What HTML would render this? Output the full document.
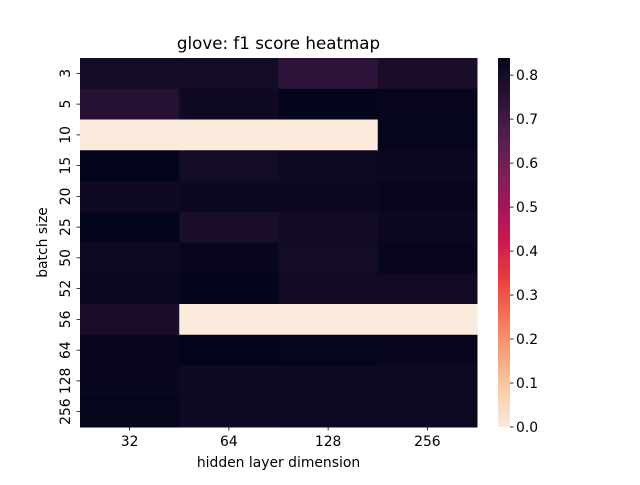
<!DOCTYPE html>
<html><head><meta charset="utf-8"><style>
body{margin:0;background:#fff;font-family:"Liberation Sans","DejaVu Sans",sans-serif}
</style></head><body>
<svg id="chart" width="640" height="480" xmlns="http://www.w3.org/2000/svg" font-family="DejaVu Sans, Liberation Sans, sans-serif">
<rect width="640" height="480" fill="#fff"/>
<text x="278.5" y="49" font-size="16.7" text-anchor="middle">glove: f1 score heatmap</text>
<g id="cells"></g>
<g id="ticks"></g>
<text x="278.5" y="467" font-size="13.9" text-anchor="middle">hidden layer dimension</text>
<text transform="translate(47,242.5) rotate(-90)" font-size="13.9" text-anchor="middle">batch size</text>
<defs><linearGradient id="cg" x1="0" y1="1" x2="0" y2="0"></linearGradient></defs>
<rect x="498" y="58" width="12" height="369" fill="url(#cg)"/>
<g id="cbticks"></g>
</svg>
<script>
const columns = ["32","64","128","256"];
const rows = ["3","5","10","15","20","25","50","52","56","64","128","256"];
const values = [
[0.80,0.80,0.74,0.79],
[0.76,0.81,0.84,0.83],
[0,0,0,0.835],
[0.84,0.80,0.815,0.82],
[0.81,0.82,0.82,0.83],
[0.84,0.79,0.805,0.82],
[0.815,0.83,0.80,0.83],
[0.82,0.84,0.805,0.805],
[0.79,0,0,0],
[0.83,0.84,0.835,0.83],
[0.825,0.81,0.81,0.815],
[0.835,0.81,0.815,0.815]
];
const cbTicks = [0,0.1,0.2,0.3,0.4,0.5,0.6,0.7,0.8];
const vmin = 0, vmax = 0.839;
const L=80,R=477,T=58,B=427;
const cw=(R-L)/columns.length, rh=(B-T)/rows.length;
const rocket=[[0,[3,5,26]],[0.1,[40,18,54]],[0.2,[76,29,75]],[0.3,[117,31,88]],[0.4,[160,24,89]],[0.5,[203,27,79]],[0.6,[233,62,64]],[0.7,[243,115,86]],[0.8,[246,162,125]],[0.9,[248,204,170]],[1,[250,235,221]]];
function cmap(v){let t=1-(v-vmin)/(vmax-vmin);t=Math.max(0,Math.min(1,t));
for(let i=0;i<rocket.length-1;i++){const [a,ca]=rocket[i],[b,cb]=rocket[i+1];if(t<=b){const f=(t-a)/(b-a);return 'rgb('+ca.map((c,k)=>Math.round(c+(cb[k]-c)*f)).join(',')+')';}}return 'rgb(250,235,221)';}
const NS="http://www.w3.org/2000/svg";
function mk(tag,attrs,parent){const e=document.createElementNS(NS,tag);for(const k in attrs)e.setAttribute(k,attrs[k]);parent.appendChild(e);return e;}
const cells=document.getElementById('cells'),ticks=document.getElementById('ticks');
rows.forEach((r,i)=>columns.forEach((c,j)=>{
const e=mk('rect',{x:L+j*cw,y:T+i*rh,width:cw+0.5,height:rh+0.5,fill:cmap(values[i][j])},cells);


}));
columns.forEach((c,j)=>{const x=L+(j+0.5)*cw;
mk('line',{x1:x,x2:x,y1:B,y2:B+3.5,stroke:'#000','stroke-width':0.8},ticks);
const t=mk('text',{x:x,y:B+19,'font-size':13.9,'text-anchor':'middle'},ticks);t.textContent=c;

});
rows.forEach((r,i)=>{const y=T+(i+0.5)*rh;
mk('line',{x1:L-3.5,x2:L,y1:y,y2:y,stroke:'#000','stroke-width':0.8},ticks);
const t=mk('text',{transform:'translate(70,'+y+') rotate(-90)','font-size':13.9,'text-anchor':'middle'},ticks);t.textContent=r;

});
const g=document.getElementById('cg');
for(let k=0;k<=20;k++){const v=vmin+(vmax-vmin)*k/20;mk('stop',{offset:(k*5)+'%','stop-color':cmap(v)},g);}
const cbt=document.getElementById('cbticks');
cbTicks.forEach(v=>{const y=B-(v-vmin)/(vmax-vmin)*(B-T);
mk('line',{x1:510,x2:513.5,y1:y,y2:y,stroke:'#000','stroke-width':0.8},cbt);
const t=mk('text',{x:516,y:y+5,'font-size':13.9},cbt);t.textContent=v.toFixed(1);

});
</script>
</body></html>
